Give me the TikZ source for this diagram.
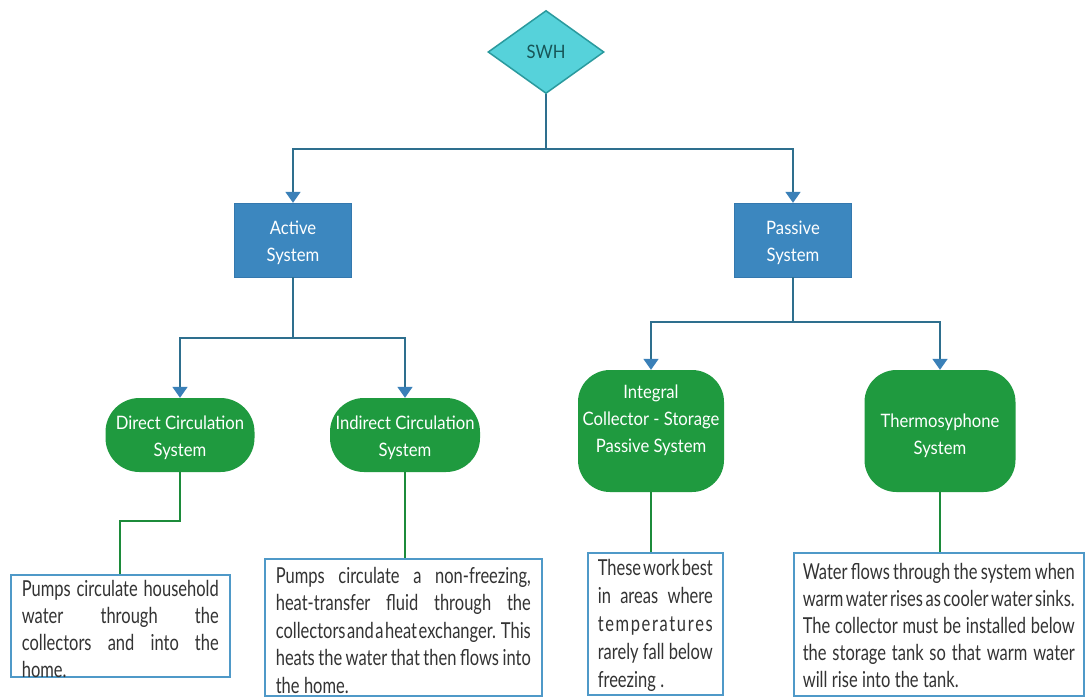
\documentclass[tikz,border=0pt]{standalone}
\usepackage{fontspec}
\setmainfont{Lato}
\newfontfamily\bodyfnt[FakeStretch=0.75]{Lato}
\newfontfamily\headfnt[FakeStretch=0.9]{Lato}
\usetikzlibrary{shapes.geometric,arrows.meta}
\definecolor{swhfill}{HTML}{56D2DA}
\definecolor{swhdraw}{HTML}{2A9A9E}
\definecolor{bluefill}{HTML}{3C87BF}
\definecolor{bluedraw}{HTML}{3478AE}
\definecolor{greenfill}{HTML}{1F9A3F}
\definecolor{conncol}{HTML}{2E6F8E}
\definecolor{tipcol}{HTML}{3A80B8}
\definecolor{greenline}{HTML}{1C8B3A}
\definecolor{boxdraw}{HTML}{4F99C8}
\definecolor{txt}{HTML}{333333}
\newcommand{\boxtext}[5]{\parbox[c][#2][t]{#1}{\bodyfnt\fontsize{22}{#4}\selectfont\color{txt}%
  \hyphenpenalty=10000 \exhyphenpenalty=10000 \spaceskip=0.2em plus 1.5em minus 0.14em
  \vspace*{#3}#5}}
\newcommand{\topstrut}[1]{\rule{0pt}{#1}}
\begin{document}
\begin{tikzpicture}[x=1pt,y=-1pt,
  headfont/.style={font=\headfnt\fontsize{18.5}{27}\selectfont},
  bluebox/.style={draw=bluedraw,fill=bluefill,text=white,minimum width=117pt,minimum height=74pt,inner sep=0pt,align=center,headfont},
  greenbox/.style={fill=greenfill,text=white,inner sep=0pt,align=center,headfont},
  descbox/.style={draw=boxdraw,line width=1.6pt,inner xsep=11pt,inner ysep=0pt,anchor=north west},
  conn/.style={draw=conncol,line width=1.8pt},
  arr/.style={-{Triangle[width=15pt,length=11pt,fill=tipcol,color=tipcol]}},
  gconn/.style={draw=greenline,line width=1.8pt}]
\useasboundingbox (0,0) rectangle (1085,697);
\fill[white] (0,0) rectangle (1085,697);

\node[diamond,draw=swhdraw,line width=1.5pt,fill=swhfill,minimum width=116pt,minimum height=83pt,inner sep=0pt,aspect=1.4,text=swhdraw!55!black,headfont] (swh) at (546,52) {SWH};

\node[bluebox] (act) at (293,240) {\topstrut{20pt}Active\\System};
\node[bluebox] (pas) at (793,240) {\topstrut{20pt}Passive\\System};

\node[greenbox,minimum width=149pt,minimum height=74pt,rounded corners=34pt] (dir) at (180,435) {\topstrut{19pt}Direct Circulation\\System};
\node[greenbox,minimum width=150pt,minimum height=74pt,rounded corners=34pt] (ind) at (405,435) {\topstrut{19pt}Indirect Circulation\\System};
\node[greenbox,minimum width=146pt,minimum height=122pt,rounded corners=32pt] (int) at (651,431) {Integral\\Collector - Storage\\Passive System\\[-3pt]};
\node[greenbox,minimum width=151pt,minimum height=122pt,rounded corners=32pt] (thm) at (940,431) {\topstrut{22.5pt}Thermosyphone\\System};

\draw[conn,arr] (swh.south) -- ++(0,55) -| (act.north);
\draw[conn,arr] (swh.south) -- ++(0,55) -| (pas.north);
\draw[conn,arr] (act.south) -- ++(0,61) -| (dir.north);
\draw[conn,arr] (act.south) -- ++(0,61) -| (ind.north);
\draw[conn,arr] (pas.south) -- ++(0,45) -| (int.north);
\draw[conn,arr] (pas.south) -- ++(0,45) -| (thm.north);

\node[descbox] (dbox) at (10,574) {\boxtext{197pt}{102pt}{5pt}{27}{Pumps circulate household\linebreak water through the\linebreak collectors and into the\linebreak home.}};
\node[descbox] (ibox) at (264,558) {\boxtext{255pt}{137pt}{8pt}{27.5}{Pumps circulate a non-freezing,\linebreak \mbox{heat-transfer} fluid through the\linebreak collectors and a heat exchanger. This\linebreak heats the water that then flows into\linebreak the home.}};
\node[descbox,inner xsep=10pt] (gbox) at (587,552) {\boxtext{115pt}{142pt}{6pt}{28}{These work best\linebreak in areas where\linebreak \makebox[\linewidth][s]{t e m p e r a t u r e s}\linebreak rarely fall below\linebreak freezing .}};
\node[descbox,inner xsep=9pt] (tbox) at (793,552) {\boxtext{272pt}{143pt}{10pt}{27}{Water flows through the system when\linebreak warm water rises as cooler water sinks.\linebreak The collector must be installed below\linebreak the storage tank so that warm water\linebreak will rise into the tank.}};

\draw[gconn] (dir.south) -- ++(0,49) -| (dbox.north);
\draw[gconn] (ind.south) -- (ind.south |- ibox.north);
\draw[gconn] (int.south) -- (int.south |- gbox.north);
\draw[gconn] (thm.south) -- (thm.south |- tbox.north);
\end{tikzpicture}
\end{document}
